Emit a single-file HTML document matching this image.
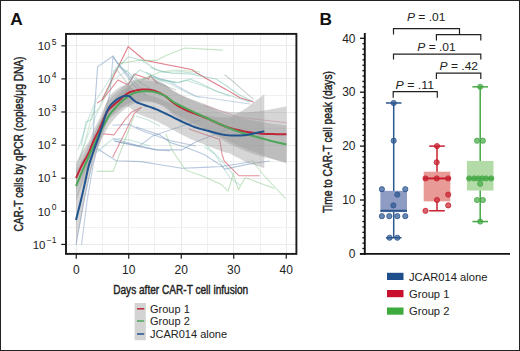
<!DOCTYPE html><html><head><meta charset="utf-8"><style>html,body{margin:0;padding:0;background:#fff;}svg{display:block;}text{font-family:"Liberation Sans",sans-serif;}</style></head><body>
<svg width="520" height="351" viewBox="0 0 520 351">
<rect x="0" y="0" width="520" height="351" fill="#fff"/>
<defs><clipPath id="pa"><rect x="66" y="33" width="230" height="221"/></clipPath></defs>
<text x="10.3" y="25.4" font-size="17.3" font-weight="bold" fill="#111">A</text>
<g stroke-width="1"><line x1="76.50" y1="33" x2="76.50" y2="254" stroke="#eaeaea"/><line x1="102.50" y1="33" x2="102.50" y2="254" stroke="#f0f0f0"/><line x1="128.50" y1="33" x2="128.50" y2="254" stroke="#eaeaea"/><line x1="154.50" y1="33" x2="154.50" y2="254" stroke="#f0f0f0"/><line x1="181.50" y1="33" x2="181.50" y2="254" stroke="#eaeaea"/><line x1="207.50" y1="33" x2="207.50" y2="254" stroke="#f0f0f0"/><line x1="233.50" y1="33" x2="233.50" y2="254" stroke="#eaeaea"/><line x1="260.50" y1="33" x2="260.50" y2="254" stroke="#f0f0f0"/><line x1="286.50" y1="33" x2="286.50" y2="254" stroke="#eaeaea"/><line x1="66" y1="244.50" x2="296" y2="244.50" stroke="#eaeaea"/><line x1="66" y1="227.50" x2="296" y2="227.50" stroke="#f0f0f0"/><line x1="66" y1="211.50" x2="296" y2="211.50" stroke="#eaeaea"/><line x1="66" y1="194.50" x2="296" y2="194.50" stroke="#f0f0f0"/><line x1="66" y1="178.50" x2="296" y2="178.50" stroke="#eaeaea"/><line x1="66" y1="161.50" x2="296" y2="161.50" stroke="#f0f0f0"/><line x1="66" y1="145.50" x2="296" y2="145.50" stroke="#eaeaea"/><line x1="66" y1="128.50" x2="296" y2="128.50" stroke="#f0f0f0"/><line x1="66" y1="112.50" x2="296" y2="112.50" stroke="#eaeaea"/><line x1="66" y1="95.50" x2="296" y2="95.50" stroke="#f0f0f0"/><line x1="66" y1="78.50" x2="296" y2="78.50" stroke="#eaeaea"/><line x1="66" y1="62.50" x2="296" y2="62.50" stroke="#f0f0f0"/><line x1="66" y1="45.50" x2="296" y2="45.50" stroke="#eaeaea"/></g>
<g clip-path="url(#pa)"><polyline points="97.0,103.0 102.6,99.6 118.0,79.9 128.2,85.0 134.2,73.9 148.7,79.0 150.4,75.6 153.0,79.0 158.0,84.0" fill="none" stroke="rgba(205,50,70,0.55)" stroke-width="1.1"/><polyline points="102.0,100.0 128.2,46.5 144.5,60.2 166.0,64.5 180.2,67.2 192.2,69.8 197.3,73.2 205.8,78.3 226.0,89.4 240.0,97.7 253.6,102.0" fill="none" stroke="rgba(205,50,70,0.65)" stroke-width="1.1"/><polyline points="102.9,133.9 113.9,134.9 125.8,118.9 131.8,112.0 141.5,107.2" fill="none" stroke="rgba(205,50,70,0.5)" stroke-width="1.1"/><polyline points="112.6,157.2 125.8,130.9 133.8,114.0 141.5,107.2" fill="none" stroke="rgba(205,50,70,0.5)" stroke-width="1.1"/><polyline points="203.2,105.0 238.7,117.2 286.5,122.8" fill="none" stroke="rgba(205,50,70,0.35)" stroke-width="1.1"/><polyline points="189.0,129.0 219.7,139.4 222.0,154.2 224.2,161.0 239.0,175.8 259.5,175.8" fill="none" stroke="rgba(205,50,70,0.55)" stroke-width="1.1"/><polyline points="76.0,244.8 84.2,200.0 91.7,165.0 94.5,110.0 97.6,66.8 113.0,56.1 119.7,66.2 128.2,77.3 134.2,85.9 146.0,95.0" fill="none" stroke="rgba(95,130,180,0.45)" stroke-width="1.1"/><polyline points="81.5,244.8 87.2,200.0 93.2,165.0 110.0,93.0 113.0,57.0 117.3,63.0 126.0,72.3 140.0,88.0" fill="none" stroke="rgba(95,130,180,0.4)" stroke-width="1.1"/><polyline points="136.0,127.0 160.0,135.0 170.0,142.6 187.1,147.7 204.2,154.5 221.3,165.6 224.7,169.1 250.0,163.9 269.8,161.0" fill="none" stroke="rgba(95,130,180,0.45)" stroke-width="1.1"/><polyline points="113.9,140.9 136.0,145.9 156.0,149.9 181.9,149.9 195.8,141.9 216.0,134.0 230.0,128.0" fill="none" stroke="rgba(95,130,180,0.45)" stroke-width="1.1"/><polyline points="112.6,138.3 139.3,146.0 152.6,136.0 181.9,126.0 200.0,120.0" fill="none" stroke="rgba(95,130,180,0.4)" stroke-width="1.1"/><polyline points="152.8,76.6 168.2,80.9 180.2,87.7 195.0,96.0 250.0,104.0" fill="none" stroke="rgba(95,130,180,0.35)" stroke-width="1.1"/><polyline points="114.5,71.3 128.2,56.8 141.9,60.2 156.3,69.8 171.6,73.2 190.4,74.0 216.0,78.9 226.3,85.7 238.2,94.3 252.0,101.0" fill="none" stroke="rgba(115,188,172,0.5)" stroke-width="1.1"/><polyline points="118.0,63.6 139.3,60.2 156.3,60.4 166.5,55.2 185.3,48.0 222.9,50.1" fill="none" stroke="rgba(125,192,125,0.45)" stroke-width="1.1"/><polyline points="146.0,72.3 159.7,79.2 178.5,82.6 190.4,79.2 202.4,84.3 216.0,90.9 226.3,94.3 250.0,102.0" fill="none" stroke="rgba(115,188,172,0.45)" stroke-width="1.1"/><polyline points="224.5,74.6 233.1,81.5 241.6,89.2 253.6,99.4" fill="none" stroke="rgba(150,165,160,0.5)" stroke-width="1.1"/><polyline points="96.8,171.4 113.1,171.4 134.4,115.0" fill="none" stroke="rgba(125,192,125,0.45)" stroke-width="1.1"/><polyline points="81.5,145.0 86.0,121.9 92.0,119.0 95.0,105.0" fill="none" stroke="rgba(115,188,172,0.45)" stroke-width="1.1"/><polyline points="165.9,133.9 172.0,150.0 185.4,169.9 204.2,176.8 221.3,184.4 228.1,191.3 233.2,174.2 238.4,189.6 245.2,177.6 274.4,188.4" fill="none" stroke="rgba(125,192,125,0.45)" stroke-width="1.1"/><polyline points="251.6,159.9 264.3,176.0 285.7,198.6" fill="none" stroke="rgba(125,192,125,0.4)" stroke-width="1.1"/><polyline points="206.0,145.0 219.7,158.7 233.3,174.7" fill="none" stroke="rgba(115,188,172,0.4)" stroke-width="1.1"/><polyline points="204.2,146.8 214.4,153.7 229.8,177.6 240.0,185.0" fill="none" stroke="rgba(115,188,172,0.35)" stroke-width="1.1"/><polyline points="136.0,116.0 148.0,120.0 160.0,126.0" fill="none" stroke="rgba(115,188,172,0.4)" stroke-width="1.1"/><polyline points="113.0,72.0 118.0,66.0 128.0,72.0 136.0,80.0 146.0,86.0 156.0,92.0" fill="none" stroke="rgba(115,188,172,0.45)" stroke-width="1.1"/><polyline points="113.0,74.0 117.0,70.0 128.0,84.0 134.0,75.0 140.0,82.0 150.0,76.0 160.0,84.0 176.0,90.0" fill="none" stroke="rgba(150,165,160,0.45)" stroke-width="1.1"/><polyline points="126.0,92.0 134.0,82.0 146.0,78.0 160.0,72.0 176.0,70.0 200.0,72.0" fill="none" stroke="rgba(125,192,125,0.4)" stroke-width="1.1"/><polyline points="128.0,80.0 140.0,70.0 150.0,75.0 160.0,80.0 176.0,83.0" fill="none" stroke="rgba(115,188,172,0.4)" stroke-width="1.1"/><polyline points="97.4,148.8 116.2,160.8 141.3,161.6 160.0,164.8 182.0,168.2 204.2,167.4 221.3,166.5 250.0,162.0" fill="none" stroke="rgba(95,130,180,0.45)" stroke-width="1.1"/><polyline points="97.0,152.0 111.0,140.3 119.6,138.5 130.0,140.0 150.0,146.0" fill="none" stroke="rgba(115,188,172,0.4)" stroke-width="1.1"/><polyline points="78.0,150.0 84.0,132.0 88.0,120.0 96.0,100.0 104.0,88.0 113.0,74.0" fill="none" stroke="rgba(115,188,172,0.35)" stroke-width="1.1"/><polyline points="80.0,160.0 86.0,138.0 92.0,115.0 100.0,108.0 108.0,90.0 114.0,72.0" fill="none" stroke="rgba(125,192,125,0.35)" stroke-width="1.1"/><polyline points="76.0,170.0 82.0,150.0 95.0,118.0 103.0,98.0 113.0,80.0 128.0,70.0" fill="none" stroke="rgba(115,188,172,0.3)" stroke-width="1.1"/><polyline points="90.0,150.0 97.0,128.0 104.0,115.0 113.0,104.0 128.0,96.0" fill="none" stroke="rgba(150,165,160,0.35)" stroke-width="1.1"/><polyline points="112.2,125.3 129.3,124.4 141.3,130.4 158.4,136.4 170.0,140.6 196.0,146.0" fill="none" stroke="rgba(95,130,180,0.4)" stroke-width="1.1"/><polyline points="115.6,141.5 140.0,146.0 158.4,150.0 170.0,150.9" fill="none" stroke="rgba(95,130,180,0.35)" stroke-width="1.1"/><polyline points="150.0,67.4 163.7,72.5 180.8,71.6 200.0,74.0" fill="none" stroke="rgba(115,188,172,0.4)" stroke-width="1.1"/><polyline points="160.3,79.3 177.4,82.7 185.9,80.2 201.3,85.3 230.0,96.4" fill="none" stroke="rgba(115,188,172,0.35)" stroke-width="1.1"/><polyline points="150.0,76.8 170.0,84.0 184.2,91.3 200.0,98.0" fill="none" stroke="rgba(115,188,172,0.35)" stroke-width="1.1"/></g>
<g clip-path="url(#pa)"><path d="M76.00,163.00 L76.65,161.75 L77.55,160.01 L78.61,157.95 L79.76,155.76 L80.92,153.62 L82.00,151.71 L83.03,150.07 L84.07,148.53 L85.11,147.05 L86.16,145.56 L87.19,143.99 L88.20,142.29 L89.20,140.38 L90.18,138.28 L91.16,135.92 L92.12,133.57 L93.07,131.30 L94.00,129.20 L94.90,127.35 L95.75,125.70 L96.59,124.13 L97.45,122.54 L98.34,120.82 L99.30,118.87 L100.37,116.52 L101.53,113.84 L102.73,111.02 L103.91,108.28 L105.02,105.81 L106.00,103.80 L106.76,102.37 L107.34,101.36 L107.84,100.63 L108.38,100.00 L109.06,99.31 L110.00,98.40 L111.25,97.15 L112.72,95.78 L114.34,94.34 L116.02,92.87 L117.67,91.44 L119.20,90.09 L120.61,88.79 L121.98,87.47 L123.32,86.19 L124.64,84.97 L125.96,83.87 L127.30,82.92 L128.64,82.14 L129.96,81.51 L131.28,80.98 L132.62,80.54 L133.99,80.14 L135.40,79.75 L136.86,79.37 L138.34,79.03 L139.86,78.72 L141.40,78.48 L142.98,78.32 L144.60,78.25 L146.27,78.26 L147.99,78.33 L149.75,78.49 L151.52,78.73 L153.28,79.06 L155.00,79.50 L156.70,80.05 L158.39,80.71 L160.07,81.46 L161.74,82.30 L163.38,83.20 L165.00,84.17 L166.54,85.23 L167.99,86.40 L169.43,87.64 L170.90,88.91 L172.47,90.15 L174.20,91.33 L176.06,92.45 L178.01,93.55 L180.05,94.63 L182.21,95.70 L184.52,96.76 L187.00,97.82 L189.67,98.86 L192.53,99.86 L195.52,100.85 L198.63,101.87 L201.80,102.95 L205.00,104.10 L208.33,105.41 L211.84,106.86 L215.41,108.37 L218.94,109.84 L222.31,110.78 L225.40,111.36 L228.20,111.75 L230.81,112.00 L233.26,112.14 L235.58,112.21 L237.81,112.25 L240.00,112.29 L242.07,112.32 L243.97,112.32 L245.79,112.29 L247.60,112.22 L249.48,112.11 L251.50,111.97 L253.59,111.80 L255.69,111.61 L257.85,111.39 L260.14,111.11 L262.64,110.77 L265.40,110.34 L268.74,109.76 L272.68,109.02 L276.82,108.22 L280.76,107.44 L284.12,106.77 L286.50,106.30 L286.50,162.30 L284.12,161.77 L280.76,161.02 L276.82,160.14 L272.68,159.21 L268.74,158.29 L265.40,157.46 L262.64,156.72 L260.14,156.01 L257.85,155.32 L255.69,154.64 L253.59,153.95 L251.50,153.23 L249.48,152.52 L247.60,151.84 L245.79,151.15 L243.97,150.42 L242.07,149.62 L240.00,148.71 L237.81,147.75 L235.58,146.77 L233.26,145.72 L230.81,144.55 L228.20,143.21 L225.40,141.64 L222.31,139.75 L218.94,137.75 L215.41,136.00 L211.84,134.21 L208.33,132.48 L205.00,130.90 L201.80,129.49 L198.63,128.16 L195.52,126.90 L192.53,125.66 L189.67,124.43 L187.00,123.18 L184.52,121.92 L182.21,120.67 L180.05,119.43 L178.01,118.19 L176.06,116.94 L174.20,115.67 L172.47,114.35 L170.90,112.98 L169.43,111.61 L167.99,110.27 L166.54,109.00 L165.00,107.83 L163.38,106.76 L161.74,105.75 L160.07,104.80 L158.39,103.94 L156.70,103.16 L155.00,102.50 L153.28,101.95 L151.52,101.50 L149.75,101.14 L147.99,100.87 L146.27,100.67 L144.60,100.55 L142.98,100.52 L141.40,100.58 L139.86,100.71 L138.34,100.92 L136.86,101.16 L135.40,101.45 L133.99,101.74 L132.62,102.05 L131.28,102.40 L129.96,102.84 L128.64,103.39 L127.30,104.08 L125.96,104.94 L124.64,105.95 L123.32,107.08 L121.98,108.27 L120.61,109.49 L119.20,110.71 L117.67,111.95 L116.02,113.27 L114.34,114.63 L112.72,115.96 L111.25,117.23 L110.00,118.40 L109.06,119.41 L108.38,120.16 L107.84,120.85 L107.34,121.63 L106.76,122.69 L106.00,124.20 L105.02,126.30 L103.91,128.89 L102.73,131.75 L101.53,134.68 L100.37,137.48 L99.30,139.94 L98.34,141.99 L97.45,143.80 L96.59,145.47 L95.75,147.12 L94.90,148.86 L94.00,150.80 L93.07,152.99 L92.12,155.35 L91.16,157.80 L90.18,160.27 L89.20,162.84 L88.20,165.31 L87.19,167.60 L86.16,169.76 L85.11,171.85 L84.07,173.92 L83.03,176.05 L82.00,178.29 L80.92,180.81 L79.76,183.61 L78.61,186.45 L77.55,189.12 L76.65,191.38 L76.00,193.00Z" fill="#999" fill-opacity="0.4"/><path d="M76.00,171.00 L76.65,169.66 L77.56,167.81 L78.62,165.62 L79.78,163.26 L80.93,160.90 L82.00,158.71 L83.00,156.66 L84.00,154.58 L85.00,152.51 L86.00,150.45 L87.00,148.42 L88.00,146.43 L89.00,144.49 L90.00,142.59 L91.00,140.49 L92.00,138.40 L93.00,136.31 L94.00,134.20 L95.00,132.06 L96.00,129.89 L97.00,127.72 L98.00,125.59 L99.00,123.50 L100.00,121.50 L101.02,119.55 L102.07,117.63 L103.12,115.77 L104.15,113.99 L105.12,112.32 L106.00,110.80 L106.72,109.50 L107.29,108.42 L107.80,107.45 L108.36,106.50 L109.06,105.45 L110.00,104.20 L111.25,102.61 L112.72,100.82 L114.34,98.93 L116.02,97.03 L117.67,95.24 L119.20,93.65 L120.64,92.24 L122.07,90.94 L123.47,89.74 L124.82,88.64 L126.10,87.63 L127.30,86.71 L128.39,85.90 L129.37,85.19 L130.29,84.58 L131.18,84.04 L132.07,83.56 L133.00,83.12 L133.94,82.73 L134.87,82.41 L135.81,82.15 L136.76,81.93 L137.75,81.72 L138.80,81.52 L139.90,81.31 L141.03,81.10 L142.20,80.91 L143.41,80.75 L144.68,80.64 L146.00,80.60 L147.38,80.61 L148.82,80.65 L150.31,80.74 L151.84,80.90 L153.40,81.13 L155.00,81.45 L156.66,81.86 L158.39,82.36 L160.16,82.93 L161.92,83.57 L163.65,84.29 L165.30,85.08 L166.82,85.97 L168.23,86.97 L169.59,88.04 L171.00,89.15 L172.51,90.25 L174.20,91.32 L176.05,92.32 L177.99,93.30 L180.03,94.27 L182.20,95.27 L184.52,96.33 L187.00,97.46 L189.67,98.68 L192.53,99.97 L195.52,101.31 L198.63,102.69 L201.80,104.09 L205.00,105.50 L208.33,106.97 L211.84,108.53 L215.41,110.12 L218.94,111.66 L222.31,112.91 L225.40,113.93 L228.04,114.78 L230.30,115.49 L232.39,116.12 L234.55,116.71 L237.01,117.32 L240.00,117.99 L243.66,118.75 L247.83,119.56 L252.29,120.38 L256.85,121.19 L261.29,121.94 L265.40,122.62 L269.41,123.24 L273.53,123.82 L277.54,124.35 L281.19,124.82 L284.25,125.21 L286.50,125.50 L286.50,163.50 L284.25,162.73 L281.19,161.70 L277.54,160.46 L273.53,159.09 L269.41,157.64 L265.40,156.18 L261.29,154.64 L256.85,152.95 L252.29,151.18 L247.83,149.42 L243.66,147.73 L240.00,146.21 L237.01,144.90 L234.55,143.78 L232.39,142.73 L230.30,141.66 L228.04,140.47 L225.40,139.07 L222.31,137.40 L218.94,135.62 L215.41,133.93 L211.84,132.21 L208.33,130.51 L205.00,128.90 L201.80,127.36 L198.63,125.83 L195.52,124.33 L192.53,122.87 L189.67,121.47 L187.00,120.14 L184.52,118.91 L182.20,117.76 L180.03,116.68 L177.99,115.62 L176.05,114.56 L174.20,113.48 L172.51,112.35 L171.00,111.19 L169.59,110.03 L168.23,108.91 L166.82,107.86 L165.30,106.92 L163.65,106.08 L161.92,105.30 L160.16,104.60 L158.39,103.97 L156.66,103.42 L155.00,102.95 L153.40,102.57 L151.84,102.29 L150.31,102.08 L148.82,101.94 L147.38,101.85 L146.00,101.80 L144.68,101.80 L143.41,101.86 L142.20,101.98 L141.03,102.13 L139.90,102.30 L138.80,102.48 L137.75,102.65 L136.76,102.82 L135.81,103.01 L134.87,103.24 L133.94,103.53 L133.00,103.88 L132.07,104.30 L131.18,104.75 L130.29,105.26 L129.37,105.84 L128.39,106.51 L127.30,107.29 L126.10,108.17 L124.82,109.14 L123.47,110.19 L122.07,111.35 L120.64,112.60 L119.20,113.95 L117.67,115.49 L116.02,117.23 L114.34,119.07 L112.72,120.91 L111.25,122.65 L110.00,124.20 L109.06,125.54 L108.36,126.66 L107.80,127.67 L107.29,128.69 L106.72,129.83 L106.00,131.20 L105.12,132.81 L104.15,134.57 L103.12,136.46 L102.07,138.43 L101.02,140.45 L100.00,142.50 L99.00,144.60 L98.00,146.79 L97.00,149.03 L96.00,151.29 L95.00,153.56 L94.00,155.80 L93.00,158.01 L92.00,160.20 L91.00,162.39 L90.00,164.59 L89.00,167.06 L88.00,169.57 L87.00,172.13 L86.00,174.74 L85.00,177.37 L84.00,180.01 L83.00,182.66 L82.00,185.29 L80.93,188.09 L79.78,191.11 L78.62,194.12 L77.56,196.93 L76.65,199.29 L76.00,201.00Z" fill="#999" fill-opacity="0.4"/><path d="M76.00,196.00 L76.56,194.35 L77.34,192.04 L78.26,189.32 L79.23,186.41 L80.17,183.56 L81.00,181.00 L81.71,178.72 L82.37,176.52 L83.01,174.38 L83.63,172.26 L84.25,170.11 L84.90,167.90 L85.56,165.26 L86.22,162.47 L86.88,159.66 L87.56,156.88 L88.26,154.20 L89.00,151.67 L89.76,149.37 L90.53,147.27 L91.32,145.26 L92.15,143.24 L93.04,141.10 L94.00,138.75 L95.07,136.11 L96.26,133.25 L97.50,130.05 L98.74,126.52 L99.93,123.09 L101.00,119.91 L101.96,116.89 L102.85,113.94 L103.69,111.09 L104.48,108.42 L105.25,105.97 L106.00,103.79 L106.70,101.95 L107.34,100.41 L107.95,99.10 L108.57,97.92 L109.24,96.82 L110.00,95.70 L110.86,94.58 L111.80,93.53 L112.79,92.55 L113.81,91.63 L114.82,90.77 L115.80,89.96 L116.76,89.21 L117.73,88.51 L118.69,87.86 L119.64,87.28 L120.58,86.77 L121.50,86.33 L122.42,85.96 L123.33,85.66 L124.24,85.43 L125.11,85.26 L125.94,85.16 L126.70,85.11 L127.36,85.11 L127.93,85.15 L128.45,85.26 L128.97,85.45 L129.54,85.73 L130.20,86.13 L130.95,86.69 L131.74,87.43 L132.59,88.26 L133.48,89.11 L134.42,89.92 L135.40,90.61 L136.38,91.15 L137.36,91.60 L138.38,92.00 L139.51,92.40 L140.79,92.81 L142.30,93.29 L144.08,93.83 L146.10,94.40 L148.28,95.00 L150.54,95.65 L152.81,96.33 L155.00,97.05 L157.13,97.82 L159.26,98.64 L161.39,99.51 L163.53,100.39 L165.67,101.30 L167.80,102.21 L169.92,103.14 L172.03,104.10 L174.13,105.08 L176.25,106.06 L178.40,107.03 L180.60,107.97 L182.85,108.90 L185.14,109.85 L187.46,110.78 L189.80,111.67 L192.15,112.51 L194.50,113.28 L196.82,113.94 L199.12,114.53 L201.43,114.94 L203.77,115.24 L206.19,115.53 L208.70,115.84 L211.33,116.20 L214.04,116.60 L216.82,116.99 L219.66,117.32 L222.52,117.54 L225.40,117.61 L228.41,117.49 L231.60,116.54 L234.83,114.81 L237.93,113.06 L240.77,111.42 L243.20,109.99 L245.08,108.84 L246.50,107.90 L247.66,107.05 L248.75,106.21 L249.97,105.26 L251.50,104.09 L253.52,102.57 L255.91,100.75 L258.42,98.83 L260.81,96.98 L262.86,95.41 L264.30,94.30 L264.30,168.30 L262.86,167.81 L260.81,167.12 L258.42,166.31 L255.91,165.45 L253.52,164.63 L251.50,163.91 L249.97,163.38 L248.75,162.98 L247.66,162.62 L246.50,162.18 L245.08,161.55 L243.20,160.61 L240.77,159.35 L237.93,157.85 L234.83,156.15 L231.60,154.32 L228.41,153.07 L225.40,152.39 L222.52,151.55 L219.66,150.56 L216.82,149.47 L214.04,148.34 L211.33,147.22 L208.70,146.16 L206.19,145.18 L203.77,144.24 L201.43,143.31 L199.12,142.44 L196.82,141.62 L194.50,140.72 L192.15,139.73 L189.80,138.65 L187.46,137.52 L185.14,136.36 L182.85,135.19 L180.60,134.03 L178.40,132.87 L176.25,131.69 L174.13,130.49 L172.03,129.30 L169.92,128.13 L167.80,126.99 L165.67,125.87 L163.53,124.75 L161.39,123.64 L159.26,122.57 L157.13,121.54 L155.00,120.55 L152.81,119.61 L150.54,118.70 L148.28,117.83 L146.10,117.01 L144.08,116.23 L142.30,115.52 L140.79,114.89 L139.51,114.37 L138.38,113.92 L137.36,113.48 L136.38,112.98 L135.40,112.39 L134.42,111.66 L133.48,110.81 L132.59,109.92 L131.74,109.05 L130.95,108.27 L130.20,107.67 L129.54,107.25 L128.97,106.94 L128.45,106.73 L127.93,106.59 L127.36,106.52 L126.70,106.49 L125.94,106.50 L125.11,106.57 L124.24,106.70 L123.33,106.89 L122.42,107.14 L121.50,107.47 L120.58,107.87 L119.64,108.34 L118.69,108.87 L117.73,109.47 L116.76,110.13 L115.80,110.84 L114.82,111.60 L113.81,112.41 L112.79,113.29 L111.80,114.22 L110.86,115.23 L110.00,116.30 L109.24,117.39 L108.57,118.46 L107.95,119.60 L107.34,120.89 L106.70,122.40 L106.00,124.21 L105.25,126.35 L104.48,128.77 L103.69,131.41 L102.85,134.21 L101.96,137.12 L101.00,140.09 L99.93,143.23 L98.74,146.60 L97.50,150.07 L96.26,153.86 L95.07,157.71 L94.00,161.25 L93.04,164.40 L92.15,167.28 L91.32,169.99 L90.53,172.66 L89.76,175.40 L89.00,178.33 L88.26,181.48 L87.56,184.75 L86.88,188.09 L86.22,191.46 L85.56,194.79 L84.90,198.10 L84.25,201.61 L83.63,205.00 L83.01,208.37 L82.37,211.77 L81.71,215.29 L81.00,219.00 L80.17,223.22 L79.23,227.96 L78.26,232.81 L77.34,237.37 L76.56,241.23 L76.00,244.00Z" fill="#999" fill-opacity="0.4"/></g>
<g clip-path="url(#pa)" fill="none" stroke-width="2" stroke-linejoin="round" stroke-linecap="butt">
<path d="M76.00,178.00 L76.65,176.56 L77.55,174.56 L78.61,172.20 L79.76,169.68 L80.92,167.21 L82.00,165.00 L83.03,163.06 L84.07,161.23 L85.11,159.45 L86.16,157.66 L87.19,155.80 L88.20,153.80 L89.20,151.61 L90.18,149.27 L91.16,146.86 L92.12,144.46 L93.07,142.14 L94.00,140.00 L94.90,138.10 L95.75,136.41 L96.59,134.80 L97.45,133.17 L98.34,131.41 L99.30,129.40 L100.37,127.00 L101.53,124.26 L102.73,121.39 L103.91,118.59 L105.02,116.06 L106.00,114.00 L106.76,112.53 L107.34,111.50 L107.84,110.74 L108.38,110.08 L109.06,109.36 L110.00,108.40 L111.25,107.19 L112.72,105.87 L114.34,104.48 L116.02,103.07 L117.67,101.70 L119.20,100.40 L120.61,99.14 L121.98,97.87 L123.32,96.63 L124.64,95.46 L125.96,94.41 L127.30,93.50 L128.64,92.77 L129.96,92.17 L131.28,91.69 L132.62,91.29 L133.99,90.94 L135.40,90.60 L136.86,90.27 L138.34,89.97 L139.86,89.72 L141.40,89.53 L142.98,89.42 L144.60,89.40 L146.27,89.47 L147.99,89.60 L149.75,89.81 L151.52,90.11 L153.28,90.50 L155.00,91.00 L156.70,91.61 L158.39,92.32 L160.07,93.13 L161.74,94.02 L163.38,94.98 L165.00,96.00 L166.54,97.11 L167.99,98.33 L169.43,99.62 L170.90,100.94 L172.47,102.25 L174.20,103.50 L176.06,104.70 L178.01,105.87 L180.05,107.03 L182.21,108.19 L184.52,109.34 L187.00,110.50 L189.67,111.64 L192.53,112.76 L195.52,113.88 L198.63,115.02 L201.80,116.22 L205.00,117.50 L208.33,118.94 L211.84,120.54 L215.41,122.19 L218.94,123.80 L222.31,125.27 L225.40,126.50 L228.20,127.48 L230.81,128.27 L233.26,128.93 L235.58,129.49 L237.81,130.00 L240.00,130.50 L242.07,130.97 L243.97,131.37 L245.79,131.72 L247.60,132.03 L249.48,132.32 L251.50,132.60 L253.59,132.87 L255.69,133.13 L257.85,133.36 L260.14,133.56 L262.64,133.74 L265.40,133.90 L268.74,134.02 L272.68,134.11 L276.82,134.18 L280.76,134.23 L284.12,134.27 L286.50,134.30" stroke="#c0263a"/>
<path d="M76.00,186.00 L76.65,184.48 L77.56,182.37 L78.62,179.88 L79.78,177.19 L80.93,174.50 L82.00,172.00 L83.00,169.66 L84.00,167.30 L85.00,164.94 L86.00,162.59 L87.00,160.28 L88.00,158.00 L89.00,155.78 L90.00,153.59 L91.00,151.44 L92.00,149.30 L93.00,147.16 L94.00,145.00 L95.00,142.81 L96.00,140.59 L97.00,138.38 L98.00,136.19 L99.00,134.05 L100.00,132.00 L101.02,130.00 L102.07,128.03 L103.12,126.11 L104.15,124.28 L105.12,122.57 L106.00,121.00 L106.72,119.67 L107.29,118.56 L107.80,117.56 L108.36,116.58 L109.06,115.49 L110.00,114.20 L111.25,112.63 L112.72,110.87 L114.34,109.00 L116.02,107.13 L117.67,105.37 L119.20,103.80 L120.64,102.42 L122.07,101.14 L123.47,99.97 L124.82,98.89 L126.10,97.90 L127.30,97.00 L128.39,96.20 L129.37,95.51 L130.29,94.92 L131.18,94.40 L132.07,93.93 L133.00,93.50 L133.94,93.13 L134.87,92.83 L135.81,92.58 L136.76,92.37 L137.75,92.19 L138.80,92.00 L139.90,91.81 L141.03,91.61 L142.20,91.44 L143.41,91.31 L144.68,91.22 L146.00,91.20 L147.38,91.23 L148.82,91.30 L150.31,91.41 L151.84,91.59 L153.40,91.85 L155.00,92.20 L156.66,92.64 L158.39,93.16 L160.16,93.76 L161.92,94.44 L163.65,95.18 L165.30,96.00 L166.82,96.92 L168.23,97.94 L169.59,99.04 L171.00,100.17 L172.51,101.30 L174.20,102.40 L176.05,103.44 L177.99,104.46 L180.03,105.48 L182.20,106.52 L184.52,107.62 L187.00,108.80 L189.67,110.07 L192.53,111.42 L195.52,112.82 L198.63,114.26 L201.80,115.72 L205.00,117.20 L208.33,118.74 L211.84,120.37 L215.41,122.03 L218.94,123.64 L222.31,125.15 L225.40,126.50 L228.04,127.63 L230.30,128.58 L232.39,129.42 L234.55,130.24 L237.01,131.11 L240.00,132.10 L243.66,133.24 L247.83,134.49 L252.29,135.78 L256.85,137.07 L261.29,138.29 L265.40,139.40 L269.41,140.44 L273.53,141.45 L277.54,142.41 L281.19,143.26 L284.25,143.97 L286.50,144.50" stroke="#4ea65a"/>
<path d="M76.00,220.00 L76.56,217.79 L77.34,214.70 L78.26,211.06 L79.23,207.19 L80.17,203.39 L81.00,200.00 L81.71,197.00 L82.37,194.15 L83.01,191.38 L83.63,188.63 L84.25,185.86 L84.90,183.00 L85.56,180.02 L86.22,176.96 L86.88,173.88 L87.56,170.81 L88.26,167.84 L89.00,165.00 L89.76,162.38 L90.53,159.96 L91.32,157.62 L92.15,155.26 L93.04,152.75 L94.00,150.00 L95.07,146.91 L96.26,143.56 L97.50,140.06 L98.74,136.56 L99.93,133.16 L101.00,130.00 L101.96,127.01 L102.85,124.07 L103.69,121.25 L104.48,118.59 L105.25,116.16 L106.00,114.00 L106.70,112.18 L107.34,110.65 L107.95,109.35 L108.57,108.19 L109.24,107.10 L110.00,106.00 L110.86,104.90 L111.80,103.88 L112.79,102.92 L113.81,102.02 L114.82,101.18 L115.80,100.40 L116.76,99.67 L117.73,98.99 L118.69,98.37 L119.64,97.81 L120.58,97.32 L121.50,96.90 L122.42,96.55 L123.33,96.27 L124.24,96.06 L125.11,95.91 L125.94,95.83 L126.70,95.80 L127.36,95.82 L127.93,95.87 L128.45,95.99 L128.97,96.19 L129.54,96.49 L130.20,96.90 L130.95,97.48 L131.74,98.24 L132.59,99.09 L133.48,99.96 L134.42,100.79 L135.40,101.50 L136.38,102.06 L137.36,102.54 L138.38,102.96 L139.51,103.39 L140.79,103.85 L142.30,104.40 L144.08,105.03 L146.10,105.70 L148.28,106.42 L150.54,107.17 L152.81,107.97 L155.00,108.80 L157.13,109.68 L159.26,110.61 L161.39,111.58 L163.53,112.57 L165.67,113.58 L167.80,114.60 L169.92,115.64 L172.03,116.70 L174.13,117.79 L176.25,118.87 L178.40,119.95 L180.60,121.00 L182.85,122.05 L185.14,123.10 L187.46,124.15 L189.80,125.16 L192.15,126.12 L194.50,127.00 L196.82,127.78 L199.12,128.48 L201.43,129.12 L203.77,129.74 L206.19,130.36 L208.70,131.00 L211.33,131.71 L214.04,132.47 L216.82,133.23 L219.66,133.94 L222.52,134.55 L225.40,135.00 L228.41,135.28 L231.60,135.43 L234.83,135.48 L237.93,135.46 L240.77,135.39 L243.20,135.30 L245.08,135.19 L246.50,135.04 L247.66,134.84 L248.75,134.60 L249.97,134.32 L251.50,134.00 L253.52,133.60 L255.91,133.10 L258.42,132.57 L260.81,132.05 L262.86,131.61 L264.30,131.30" stroke="#21548f"/>
</g>
<rect x="66" y="33.9" width="230.4" height="220" fill="none" stroke="#1a1a1a" stroke-width="1.9"/>
<g stroke="#1a1a1a" stroke-width="1.2"><line x1="61.3" y1="244.40" x2="66" y2="244.40"/><line x1="61.3" y1="211.30" x2="66" y2="211.30"/><line x1="61.3" y1="178.20" x2="66" y2="178.20"/><line x1="61.3" y1="145.10" x2="66" y2="145.10"/><line x1="61.3" y1="112.00" x2="66" y2="112.00"/><line x1="61.3" y1="78.90" x2="66" y2="78.90"/><line x1="61.3" y1="45.80" x2="66" y2="45.80"/><line x1="76.25" y1="254" x2="76.25" y2="258.8"/><line x1="128.75" y1="254" x2="128.75" y2="258.8"/><line x1="181.25" y1="254" x2="181.25" y2="258.8"/><line x1="233.75" y1="254" x2="233.75" y2="258.8"/><line x1="286.25" y1="254" x2="286.25" y2="258.8"/></g>
<text x="56.5" y="248.60" font-size="11.5" text-anchor="end" fill="#222">10<tspan dx="1.3" dy="-5.2" font-size="8.5">−1</tspan></text><text x="56.5" y="215.50" font-size="11.5" text-anchor="end" fill="#222">10<tspan dx="1.3" dy="-5.2" font-size="8.5">0</tspan></text><text x="56.5" y="182.40" font-size="11.5" text-anchor="end" fill="#222">10<tspan dx="1.3" dy="-5.2" font-size="8.5">1</tspan></text><text x="56.5" y="149.30" font-size="11.5" text-anchor="end" fill="#222">10<tspan dx="1.3" dy="-5.2" font-size="8.5">2</tspan></text><text x="56.5" y="116.20" font-size="11.5" text-anchor="end" fill="#222">10<tspan dx="1.3" dy="-5.2" font-size="8.5">3</tspan></text><text x="56.5" y="83.10" font-size="11.5" text-anchor="end" fill="#222">10<tspan dx="1.3" dy="-5.2" font-size="8.5">4</tspan></text><text x="56.5" y="50.00" font-size="11.5" text-anchor="end" fill="#222">10<tspan dx="1.3" dy="-5.2" font-size="8.5">5</tspan></text>
<text x="76.25" y="274" font-size="12" text-anchor="middle" fill="#222">0</text>
<text x="128.75" y="274" font-size="12" text-anchor="middle" fill="#222">10</text>
<text x="181.25" y="274" font-size="12" text-anchor="middle" fill="#222">20</text>
<text x="233.75" y="274" font-size="12" text-anchor="middle" fill="#222">30</text>
<text x="286.25" y="274" font-size="12" text-anchor="middle" fill="#222">40</text>
<text x="180.7" y="293.9" font-size="13.2" text-anchor="middle" textLength="135" lengthAdjust="spacingAndGlyphs" fill="#222" stroke="#222" stroke-width="0.45">Days after CAR-T cell infusion</text>
<text transform="translate(23,144) rotate(-90)" x="0" y="0" font-size="13" text-anchor="middle" textLength="175" lengthAdjust="spacingAndGlyphs" fill="#222" stroke="#222" stroke-width="0.45">CAR-T cells by qPCR (copies/μg DNA)</text>
<rect x="134.6" y="303" width="11.2" height="37.2" fill="#d3d3d3"/>
<line x1="137" y1="308.8" x2="144.2" y2="308.8" stroke="#c0263a" stroke-width="1.5"/>
<line x1="137" y1="321" x2="144.2" y2="321" stroke="#4ea65a" stroke-width="1.5"/>
<line x1="137" y1="334" x2="144.2" y2="334" stroke="#21548f" stroke-width="1.5"/>
<text x="150" y="312.7" font-size="11" fill="#222">Group 1</text>
<text x="150" y="325.2" font-size="11" fill="#222">Group 2</text>
<text x="150" y="337.7" font-size="11" fill="#222">JCAR014 alone</text>
<text x="319.6" y="25.4" font-size="17.3" font-weight="bold" fill="#111">B</text>
<g stroke="#111" stroke-width="1.3"><line x1="364.8" y1="33" x2="364.8" y2="254.8" stroke-width="1.9"/><line x1="359.9" y1="253.9" x2="510" y2="253.9" stroke-width="1.9"/><line x1="360" y1="253.90" x2="364.7" y2="253.90"/><line x1="362.4" y1="248.51" x2="364.7" y2="248.51"/><line x1="362.4" y1="243.12" x2="364.7" y2="243.12"/><line x1="362.4" y1="237.73" x2="364.7" y2="237.73"/><line x1="362.4" y1="232.34" x2="364.7" y2="232.34"/><line x1="362.4" y1="226.95" x2="364.7" y2="226.95"/><line x1="362.4" y1="221.56" x2="364.7" y2="221.56"/><line x1="362.4" y1="216.17" x2="364.7" y2="216.17"/><line x1="362.4" y1="210.78" x2="364.7" y2="210.78"/><line x1="362.4" y1="205.39" x2="364.7" y2="205.39"/><line x1="360" y1="200.00" x2="364.7" y2="200.00"/><line x1="362.4" y1="194.61" x2="364.7" y2="194.61"/><line x1="362.4" y1="189.22" x2="364.7" y2="189.22"/><line x1="362.4" y1="183.83" x2="364.7" y2="183.83"/><line x1="362.4" y1="178.44" x2="364.7" y2="178.44"/><line x1="362.4" y1="173.05" x2="364.7" y2="173.05"/><line x1="362.4" y1="167.66" x2="364.7" y2="167.66"/><line x1="362.4" y1="162.27" x2="364.7" y2="162.27"/><line x1="362.4" y1="156.88" x2="364.7" y2="156.88"/><line x1="362.4" y1="151.49" x2="364.7" y2="151.49"/><line x1="360" y1="146.10" x2="364.7" y2="146.10"/><line x1="362.4" y1="140.71" x2="364.7" y2="140.71"/><line x1="362.4" y1="135.32" x2="364.7" y2="135.32"/><line x1="362.4" y1="129.93" x2="364.7" y2="129.93"/><line x1="362.4" y1="124.54" x2="364.7" y2="124.54"/><line x1="362.4" y1="119.15" x2="364.7" y2="119.15"/><line x1="362.4" y1="113.76" x2="364.7" y2="113.76"/><line x1="362.4" y1="108.37" x2="364.7" y2="108.37"/><line x1="362.4" y1="102.98" x2="364.7" y2="102.98"/><line x1="362.4" y1="97.59" x2="364.7" y2="97.59"/><line x1="360" y1="92.20" x2="364.7" y2="92.20"/><line x1="362.4" y1="86.81" x2="364.7" y2="86.81"/><line x1="362.4" y1="81.42" x2="364.7" y2="81.42"/><line x1="362.4" y1="76.03" x2="364.7" y2="76.03"/><line x1="362.4" y1="70.64" x2="364.7" y2="70.64"/><line x1="362.4" y1="65.25" x2="364.7" y2="65.25"/><line x1="362.4" y1="59.86" x2="364.7" y2="59.86"/><line x1="362.4" y1="54.47" x2="364.7" y2="54.47"/><line x1="362.4" y1="49.08" x2="364.7" y2="49.08"/><line x1="362.4" y1="43.69" x2="364.7" y2="43.69"/><line x1="360" y1="38.30" x2="364.7" y2="38.30"/></g>
<text x="355.5" y="258.10" font-size="12" text-anchor="end" fill="#222">0</text>
<text x="355.5" y="204.20" font-size="12" text-anchor="end" fill="#222">10</text>
<text x="355.5" y="150.30" font-size="12" text-anchor="end" fill="#222">20</text>
<text x="355.5" y="96.40" font-size="12" text-anchor="end" fill="#222">30</text>
<text x="355.5" y="42.50" font-size="12" text-anchor="end" fill="#222">40</text>
<text transform="translate(332,142) rotate(-90)" x="0" y="0" font-size="13.5" text-anchor="middle" textLength="142" lengthAdjust="spacingAndGlyphs" fill="#222" stroke="#222" stroke-width="0.45">Time to CAR-T cell peak (days)</text>
<line x1="393.7" y1="102.98" x2="393.7" y2="237.73" stroke="#2b568f" stroke-width="1.5"/><line x1="385.9" y1="102.98" x2="401.5" y2="102.98" stroke="#2b568f" stroke-width="1.5"/><line x1="385.9" y1="237.73" x2="401.5" y2="237.73" stroke="#2b568f" stroke-width="1.5"/><rect x="380.40" y="190.84" width="26.60" height="21.29" fill="#8e9cc4"/><line x1="380.40" y1="210.78" x2="407.00" y2="210.78" stroke="#2b568f" stroke-width="2"/><circle cx="393.70" cy="102.98" r="2.6" fill="#2b568f" fill-opacity="0.7" stroke="#2b568f" stroke-width="0.8"/><circle cx="393.70" cy="140.71" r="2.6" fill="#2b568f" fill-opacity="0.7" stroke="#2b568f" stroke-width="0.8"/><circle cx="381.90" cy="189.22" r="2.6" fill="#2b568f" fill-opacity="0.7" stroke="#2b568f" stroke-width="0.8"/><circle cx="405.30" cy="189.22" r="2.6" fill="#2b568f" fill-opacity="0.7" stroke="#2b568f" stroke-width="0.8"/><circle cx="397.30" cy="194.61" r="2.6" fill="#2b568f" fill-opacity="0.7" stroke="#2b568f" stroke-width="0.8"/><circle cx="393.40" cy="205.39" r="2.6" fill="#2b568f" fill-opacity="0.7" stroke="#2b568f" stroke-width="0.8"/><circle cx="381.90" cy="216.17" r="2.6" fill="#2b568f" fill-opacity="0.7" stroke="#2b568f" stroke-width="0.8"/><circle cx="389.30" cy="216.17" r="2.6" fill="#2b568f" fill-opacity="0.7" stroke="#2b568f" stroke-width="0.8"/><circle cx="397.30" cy="216.17" r="2.6" fill="#2b568f" fill-opacity="0.7" stroke="#2b568f" stroke-width="0.8"/><circle cx="405.30" cy="216.17" r="2.6" fill="#2b568f" fill-opacity="0.7" stroke="#2b568f" stroke-width="0.8"/><circle cx="389.60" cy="237.73" r="2.6" fill="#2b568f" fill-opacity="0.7" stroke="#2b568f" stroke-width="0.8"/><circle cx="397.30" cy="237.73" r="2.6" fill="#2b568f" fill-opacity="0.7" stroke="#2b568f" stroke-width="0.8"/>
<line x1="437.0" y1="146.10" x2="437.0" y2="210.78" stroke="#c8202f" stroke-width="1.5"/><line x1="429.2" y1="146.10" x2="444.8" y2="146.10" stroke="#c8202f" stroke-width="1.5"/><line x1="429.2" y1="210.78" x2="444.8" y2="210.78" stroke="#c8202f" stroke-width="1.5"/><rect x="423.70" y="171.70" width="26.60" height="29.65" fill="#e79a96"/><line x1="423.70" y1="178.44" x2="450.30" y2="178.44" stroke="#c8202f" stroke-width="2"/><circle cx="437.00" cy="146.10" r="2.6" fill="#c8202f" fill-opacity="0.7" stroke="#c8202f" stroke-width="0.8"/><circle cx="436.70" cy="162.27" r="2.6" fill="#c8202f" fill-opacity="0.7" stroke="#c8202f" stroke-width="0.8"/><circle cx="425.50" cy="178.44" r="2.6" fill="#c8202f" fill-opacity="0.7" stroke="#c8202f" stroke-width="0.8"/><circle cx="436.70" cy="178.44" r="2.6" fill="#c8202f" fill-opacity="0.7" stroke="#c8202f" stroke-width="0.8"/><circle cx="448.20" cy="178.44" r="2.6" fill="#c8202f" fill-opacity="0.7" stroke="#c8202f" stroke-width="0.8"/><circle cx="448.20" cy="194.61" r="2.6" fill="#c8202f" fill-opacity="0.7" stroke="#c8202f" stroke-width="0.8"/><circle cx="437.00" cy="200.00" r="2.6" fill="#c8202f" fill-opacity="0.7" stroke="#c8202f" stroke-width="0.8"/><circle cx="448.20" cy="205.39" r="2.6" fill="#c8202f" fill-opacity="0.7" stroke="#c8202f" stroke-width="0.8"/><circle cx="425.50" cy="210.78" r="2.6" fill="#c8202f" fill-opacity="0.7" stroke="#c8202f" stroke-width="0.8"/>
<line x1="480.2" y1="86.81" x2="480.2" y2="221.56" stroke="#45a845" stroke-width="1.5"/><line x1="472.4" y1="86.81" x2="488.0" y2="86.81" stroke="#45a845" stroke-width="1.5"/><line x1="472.4" y1="221.56" x2="488.0" y2="221.56" stroke="#45a845" stroke-width="1.5"/><rect x="466.90" y="160.92" width="26.60" height="29.64" fill="#b3dba8"/><line x1="466.90" y1="178.44" x2="493.50" y2="178.44" stroke="#45a845" stroke-width="2"/><circle cx="480.20" cy="86.81" r="2.6" fill="#45a845" fill-opacity="0.7" stroke="#45a845" stroke-width="0.8"/><circle cx="477.00" cy="140.71" r="2.6" fill="#45a845" fill-opacity="0.7" stroke="#45a845" stroke-width="0.8"/><circle cx="482.90" cy="140.71" r="2.6" fill="#45a845" fill-opacity="0.7" stroke="#45a845" stroke-width="0.8"/><circle cx="469.20" cy="178.44" r="2.6" fill="#45a845" fill-opacity="0.7" stroke="#45a845" stroke-width="0.8"/><circle cx="474.20" cy="178.44" r="2.6" fill="#45a845" fill-opacity="0.7" stroke="#45a845" stroke-width="0.8"/><circle cx="478.20" cy="178.44" r="2.6" fill="#45a845" fill-opacity="0.7" stroke="#45a845" stroke-width="0.8"/><circle cx="482.20" cy="178.44" r="2.6" fill="#45a845" fill-opacity="0.7" stroke="#45a845" stroke-width="0.8"/><circle cx="486.20" cy="178.44" r="2.6" fill="#45a845" fill-opacity="0.7" stroke="#45a845" stroke-width="0.8"/><circle cx="491.20" cy="178.44" r="2.6" fill="#45a845" fill-opacity="0.7" stroke="#45a845" stroke-width="0.8"/><circle cx="480.20" cy="183.83" r="2.6" fill="#45a845" fill-opacity="0.7" stroke="#45a845" stroke-width="0.8"/><circle cx="477.00" cy="200.00" r="2.6" fill="#45a845" fill-opacity="0.7" stroke="#45a845" stroke-width="0.8"/><circle cx="482.90" cy="200.00" r="2.6" fill="#45a845" fill-opacity="0.7" stroke="#45a845" stroke-width="0.8"/><circle cx="480.20" cy="221.56" r="2.6" fill="#45a845" fill-opacity="0.7" stroke="#45a845" stroke-width="0.8"/>
<path d="M393.5,34.4 L393.5,28.7 L459.5,28.7 L459.5,34.6" fill="none" stroke="#222" stroke-width="1.2"/>
<path d="M436.4,40.5 L436.4,34.6 L480.8,34.6 L480.8,40.5" fill="none" stroke="#222" stroke-width="1.2"/>
<path d="M393.5,59.6 L393.5,54.1 L480.8,54.1 L480.8,59.6" fill="none" stroke="#222" stroke-width="1.2"/>
<path d="M436.4,79 L436.4,73.1 L480.8,73.1 L480.8,79" fill="none" stroke="#222" stroke-width="1.2"/>
<path d="M393.2,97.7 L393.2,91.7 L437.3,91.7 L437.3,97.7" fill="none" stroke="#222" stroke-width="1.2"/>
<text x="426.2" y="20.9" font-size="11" text-anchor="middle" textLength="38.5" lengthAdjust="spacingAndGlyphs" fill="#222"><tspan font-style="italic">P</tspan> = .01</text>
<text x="436.5" y="51.1" font-size="11" text-anchor="middle" textLength="38.5" lengthAdjust="spacingAndGlyphs" fill="#222"><tspan font-style="italic">P</tspan> = .01</text>
<text x="458.8" y="70.2" font-size="11" text-anchor="middle" textLength="38.5" lengthAdjust="spacingAndGlyphs" fill="#222"><tspan font-style="italic">P</tspan> = .42</text>
<text x="414.8" y="88.6" font-size="11" text-anchor="middle" textLength="38.5" lengthAdjust="spacingAndGlyphs" fill="#222"><tspan font-style="italic">P</tspan> = .11</text>
<rect x="387" y="272.8" width="16.5" height="7.2" fill="#1f4e8c"/>
<rect x="387" y="290" width="16.5" height="7.2" fill="#c8102e"/>
<rect x="387" y="307.5" width="16.5" height="7.2" fill="#3caa3c"/>
<text x="409" y="280.5" font-size="11.2" fill="#222">JCAR014 alone</text>
<text x="409" y="297.8" font-size="11.2" fill="#222">Group 1</text>
<text x="409" y="315" font-size="11.2" fill="#222">Group 2</text>
<rect x="0.5" y="0.5" width="519" height="350" fill="none" stroke="#222" stroke-width="1"/>
</svg></body></html>
